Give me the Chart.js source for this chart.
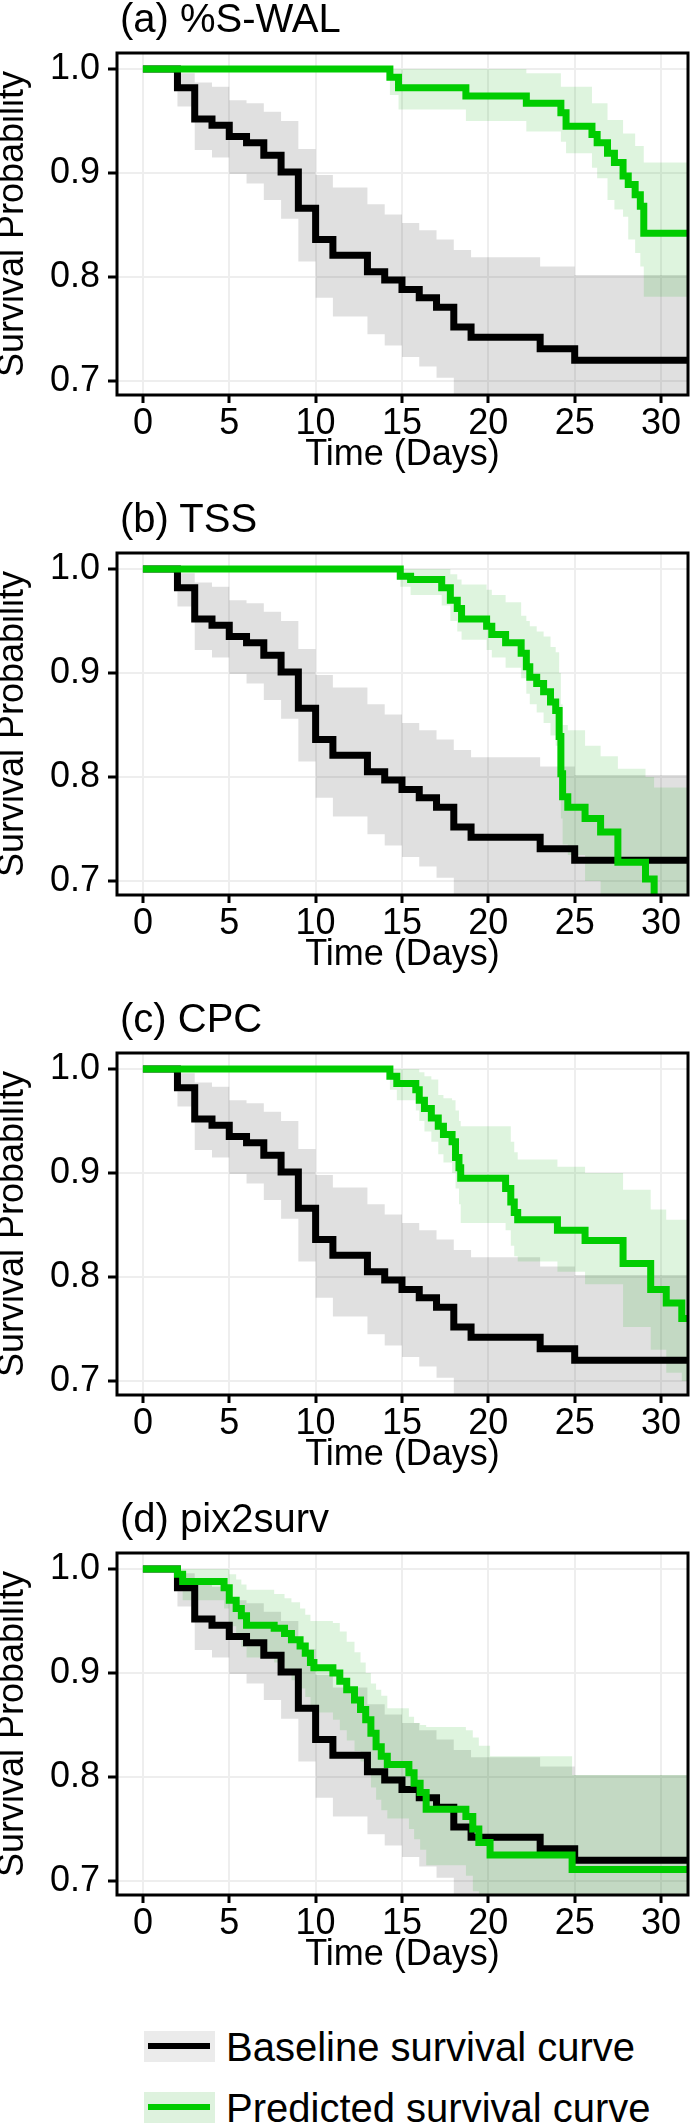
<!DOCTYPE html>
<html>
<head>
<meta charset="utf-8">
<script src="https://cdn.jsdelivr.net/npm/chart.js@4/dist/chart.umd.min.js"></script>
<style>
  html, body { margin: 0; padding: 0; background: #fff; }
  body { width: 692px; height: 2125px; position: relative; overflow: hidden;
         font-family: "Liberation Sans", Arial, Helvetica, sans-serif; color: #000; }
  .panel { position: absolute; left: 0; width: 692px; height: 500px; }
  .panel canvas { position: absolute; left: 0; top: 0; }
  .ptitle { position: absolute; left: 120px; top: -2px; font-size: 40px; line-height: 40px; white-space: nowrap; }
  .key { position: absolute; left: 144px; width: 71px; height: 31px; }
  .key span { position: absolute; left: 4px; right: 5px; top: 12px; height: 6px; }
  .ltext { position: absolute; left: 226px; font-size: 40px; line-height: 40px; white-space: nowrap; }
</style>
</head>
<body>
<script>
// ---------------- data ----------------
const panelTitles = ['(a) %S-WAL', '(b) TSS', '(c) CPC', '(d) pix2surv'];
const seriesLabels = ['Baseline survival curve', 'Predicted survival curve'];
const xTitle = 'Time (Days)';
const yTitle = 'Survival Probability';
const xTicks = [0, 5, 10, 15, 20, 25, 30];
const yTicks = [0.7, 0.8, 0.9, 1.0];

// Baseline Kaplan-Meier curve (same in every panel)
const baseTime  = [0, 2, 3, 4, 5, 6, 7, 8, 9, 10, 11, 13, 14, 15, 16, 17, 18, 19, 23, 25, 32];
const baseSurv  = [1.0, 0.982, 0.952, 0.946, 0.935, 0.929, 0.917, 0.901, 0.866, 0.836, 0.821, 0.805, 0.797, 0.788, 0.780, 0.771, 0.752, 0.742, 0.731, 0.720, 0.720];
const baseUpper = [1.0, 0.996, 0.987, 0.983, 0.970, 0.967, 0.959, 0.950, 0.923, 0.898, 0.886, 0.870, 0.860, 0.852, 0.845, 0.836, 0.826, 0.819, 0.810, 0.802, 0.802];
const baseLower = [1.0, 0.964, 0.922, 0.915, 0.899, 0.890, 0.874, 0.856, 0.815, 0.780, 0.762, 0.745, 0.734, 0.723, 0.714, 0.703, 0.680, 0.670, 0.658, 0.645, 0.645];

// (a) %S-WAL predicted
const aTime  = [0, 14.3, 14.8, 18.7, 22.2, 24.2, 24.5, 26.0, 26.3, 26.9, 27.3, 27.8, 28.1, 28.5, 28.8, 29.0, 32];
const aSurv  = [1.0, 0.992, 0.982, 0.974, 0.967, 0.958, 0.945, 0.937, 0.929, 0.919, 0.910, 0.897, 0.889, 0.879, 0.868, 0.842, 0.842];
const aUpper = [1.0, 1.0, 1.0, 1.0, 0.996, 0.983, 0.983, 0.967, 0.967, 0.951, 0.951, 0.938, 0.938, 0.926, 0.926, 0.910, 0.910];
const aLower = [1.0, 0.975, 0.961, 0.950, 0.940, 0.930, 0.919, 0.905, 0.895, 0.874, 0.865, 0.858, 0.836, 0.823, 0.810, 0.781, 0.781];

// (b) TSS predicted
const bTime  = [0, 14.9, 15.5, 17.3, 17.8, 18.2, 18.45, 19.9, 20.2, 21.0, 21.9, 22.2, 22.4, 22.8, 23.2, 23.6, 23.9, 24.1, 24.2, 24.3, 24.6, 25.6, 26.5, 27.5, 29.1, 29.6, 32];
const bSurv  = [1.0, 0.993, 0.990, 0.982, 0.970, 0.962, 0.952, 0.945, 0.937, 0.929, 0.919, 0.906, 0.896, 0.890, 0.882, 0.872, 0.864, 0.839, 0.803, 0.781, 0.771, 0.760, 0.747, 0.718, 0.702, 0.675, 0.675];
const bUpper = [1.0, 1.0, 1.0, 1.0, 0.995, 0.990, 0.985, 0.980, 0.975, 0.968, 0.955, 0.950, 0.945, 0.940, 0.935, 0.925, 0.920, 0.900, 0.870, 0.850, 0.845, 0.830, 0.820, 0.808, 0.800, 0.790, 0.790];
const bLower = [1.0, 0.983, 0.975, 0.965, 0.950, 0.940, 0.932, 0.922, 0.915, 0.905, 0.895, 0.880, 0.870, 0.862, 0.852, 0.840, 0.830, 0.800, 0.760, 0.735, 0.725, 0.700, 0.680, 0.650, 0.630, 0.600, 0.600];

// (c) CPC predicted
const cTime  = [0, 14.3, 14.7, 15.8, 16.0, 16.3, 16.7, 17.1, 17.4, 17.9, 18.1, 18.3, 18.4, 21.0, 21.3, 21.5, 21.7, 24.0, 25.6, 27.8, 29.4, 30.3, 31.2, 32];
const cSurv  = [1.0, 0.993, 0.986, 0.980, 0.970, 0.962, 0.953, 0.945, 0.937, 0.930, 0.915, 0.905, 0.895, 0.885, 0.872, 0.862, 0.855, 0.845, 0.835, 0.813, 0.788, 0.775, 0.760, 0.760];
const cUpper = [1.0, 1.0, 1.0, 1.0, 0.997, 0.993, 0.990, 0.975, 0.972, 0.970, 0.960, 0.950, 0.945, 0.945, 0.930, 0.920, 0.913, 0.906, 0.900, 0.884, 0.865, 0.855, 0.855, 0.855];
const cLower = [1.0, 0.980, 0.970, 0.960, 0.950, 0.940, 0.930, 0.918, 0.910, 0.900, 0.885, 0.870, 0.852, 0.845, 0.830, 0.820, 0.815, 0.805, 0.793, 0.752, 0.730, 0.708, 0.700, 0.700];

// (d) pix2surv predicted
const dTime  = [0, 2.0, 2.3, 4.7, 5.0, 5.4, 5.7, 6.0, 7.6, 8.2, 8.6, 9.1, 9.4, 9.7, 9.9, 11.0, 11.4, 11.8, 12.25, 12.6, 12.9, 13.2, 13.5, 13.8, 14.15, 15.4, 15.7, 16.05, 16.4, 18.7, 19.1, 19.45, 20.1, 24.85, 32];
const dSurv  = [1.0, 0.995, 0.988, 0.982, 0.970, 0.962, 0.955, 0.946, 0.943, 0.938, 0.932, 0.926, 0.919, 0.910, 0.905, 0.900, 0.892, 0.884, 0.874, 0.865, 0.855, 0.842, 0.829, 0.820, 0.812, 0.804, 0.794, 0.785, 0.769, 0.762, 0.750, 0.737, 0.725, 0.711, 0.711];
const dUpper = [1.0, 1.0, 1.0, 1.0, 0.995, 0.990, 0.985, 0.980, 0.976, 0.972, 0.968, 0.962, 0.956, 0.950, 0.950, 0.948, 0.940, 0.930, 0.920, 0.910, 0.900, 0.890, 0.884, 0.878, 0.866, 0.858, 0.852, 0.850, 0.848, 0.845, 0.838, 0.830, 0.820, 0.802, 0.802];
const dLower = [1.0, 0.985, 0.970, 0.962, 0.945, 0.935, 0.925, 0.915, 0.910, 0.900, 0.893, 0.885, 0.877, 0.868, 0.862, 0.855, 0.845, 0.835, 0.825, 0.815, 0.805, 0.790, 0.778, 0.768, 0.760, 0.750, 0.740, 0.730, 0.715, 0.705, 0.690, 0.680, 0.665, 0.648, 0.648];

const predicted = [
  [aTime, aSurv, aUpper, aLower],
  [bTime, bSurv, bUpper, bLower],
  [cTime, cSurv, cUpper, cLower],
  [dTime, dSurv, dUpper, dLower]
];

// ---------------- style ----------------
const GREEN = '#00cc00';
const GREEN_BAND = 'rgba(0,170,0,0.13)';
const GRAY_BAND = 'rgba(0,0,0,0.12)';
const PANEL_H = 500;

Chart.defaults.font.family = '"Liberation Sans", Arial, Helvetica, sans-serif';
Chart.defaults.color = '#000';

const boxPlugin = {
  id: 'panelBox',
  afterDatasetsDraw(chart) {
    const { ctx, chartArea: a } = chart;
    ctx.save();
    ctx.strokeStyle = '#000';
    ctx.lineWidth = 3;
    ctx.strokeRect(a.left, a.top, a.right - a.left, a.bottom - a.top);
    ctx.restore();
  }
};

function pts(t, v) { return t.map((x, i) => ({ x: x, y: v[i] })); }

function band(t, v, extra) {
  return Object.assign({
    data: pts(t, v), stepped: true, pointRadius: 0, borderWidth: 0,
    borderColor: 'rgba(0,0,0,0)', clip: 0
  }, extra);
}

function makePanel(i) {
  const [gT, gS, gU, gL] = predicted[i];
  const wrap = document.createElement('div');
  wrap.className = 'panel';
  wrap.style.top = (i * PANEL_H) + 'px';
  const canvas = document.createElement('canvas');
  canvas.width = 692; canvas.height = PANEL_H;
  canvas.style.width = '692px'; canvas.style.height = PANEL_H + 'px';
  wrap.appendChild(canvas);
  const title = document.createElement('div');
  title.className = 'ptitle';
  title.textContent = panelTitles[i];
  wrap.appendChild(title);
  document.body.appendChild(wrap);

  new Chart(canvas, {
    type: 'line',
    data: {
      datasets: [
        { label: seriesLabels[1], data: pts(gT, gS), borderColor: GREEN, borderWidth: 7,
          stepped: true, pointRadius: 0, fill: false, clip: 0, borderCapStyle: 'butt', borderJoinStyle: 'miter' },
        { label: seriesLabels[0], data: pts(baseTime, baseSurv), borderColor: '#000', borderWidth: 7,
          stepped: true, pointRadius: 0, fill: false, clip: 0, borderCapStyle: 'butt', borderJoinStyle: 'miter' },
        band(gT, gU, { label: 'pred upper', fill: '+1', backgroundColor: GREEN_BAND }),
        band(gT, gL, { label: 'pred lower', fill: false }),
        band(baseTime, baseUpper, { label: 'base upper', fill: '+1', backgroundColor: GRAY_BAND }),
        band(baseTime, baseLower, { label: 'base lower', fill: false })
      ]
    },
    options: {
      responsive: false,
      devicePixelRatio: 1,
      animation: false,
      events: [],
      layout: { padding: { left: 0, right: 4, top: 53, bottom: 0 } },
      plugins: { legend: { display: false }, tooltip: { enabled: false }, title: { display: false } },
      scales: {
        x: {
          type: 'linear', min: -1.5, max: 31.56,
          afterBuildTicks: s => { s.ticks = xTicks.map(v => ({ value: v })); },
          afterFit: s => { s.height = 105; },
          ticks: { font: { size: 36 }, color: '#000', padding: -1, maxRotation: 0, autoSkip: false,
                   callback: v => String(v) },
          title: { display: true, text: xTitle, font: { size: 36 }, color: '#000', padding: { top: 0, bottom: 23 } },
          grid: { color: '#eeeeee', lineWidth: 2, drawTicks: true, tickLength: 8, tickColor: '#000', tickWidth: 3 },
          border: { display: false }
        },
        y: {
          type: 'linear', min: 0.6865, max: 1.0154,
          afterBuildTicks: s => { s.ticks = yTicks.map(v => ({ value: v })); },
          afterFit: s => { s.width = 117; },
          ticks: { font: { size: 36 }, color: '#000', padding: 8, callback: v => Number(v).toFixed(1) },
          title: { display: true, text: yTitle, font: { size: 36 }, color: '#000', padding: { top: -9, bottom: 0 } },
          grid: { color: '#eeeeee', lineWidth: 2, drawTicks: true, tickLength: 9, tickColor: '#000', tickWidth: 3 },
          border: { display: false }
        }
      }
    },
    plugins: [boxPlugin]
  });
}

for (let i = 0; i < 4; i++) makePanel(i);

// ---------------- legend ----------------
const legendRows = [
  { label: seriesLabels[0], bg: '#ebebeb', line: '#000', top: 2031 },
  { label: seriesLabels[1], bg: '#def2de', line: GREEN, top: 2092 }
];
legendRows.forEach(r => {
  const k = document.createElement('div');
  k.className = 'key';
  k.style.top = r.top + 'px';
  k.style.background = r.bg;
  const ln = document.createElement('span');
  ln.style.background = r.line;
  k.appendChild(ln);
  document.body.appendChild(k);
  const t = document.createElement('div');
  t.className = 'ltext';
  t.style.top = (r.top - 4) + 'px';
  t.textContent = r.label;
  document.body.appendChild(t);
});
</script>
</body>
</html>
